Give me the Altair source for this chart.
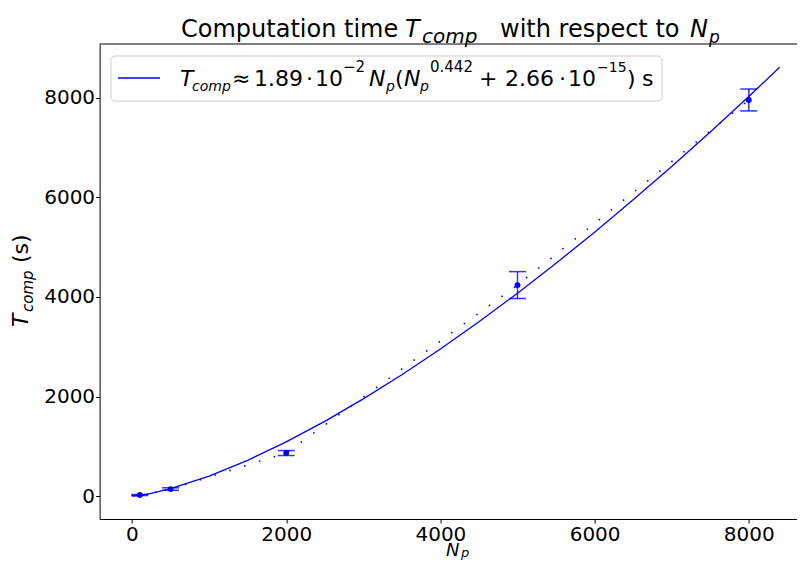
import altair as alt
import pandas as pd

# ---------------- data ----------------
N_obs = [100, 500, 2000, 5000, 8000]
T_obs = [20, 140, 864, 4240, 7960]
T_err = [10, 25, 50, 270, 220]

N_fit = [0, 100, 250, 500, 1000, 1500, 2000, 2500, 3000, 3500, 4000,
         4500, 5000, 5500, 6000, 6500, 7000, 7500, 8000, 8400]
T_fit = [0, 14.5, 54, 147, 400, 718, 1088, 1501, 1952, 2438, 2955,
         3502, 4077, 4678, 5303, 5953, 6624, 7317, 8030, 8616]

x_ticks = [0, 2000, 4000, 6000, 8000]
y_ticks = [0, 2000, 4000, 6000, 8000]

# ---------------- layout ----------------
PX0, PY0 = 99.6, 44.0          # page position of plot origin
W, H = 697.4, 475
XDOM = [-420, 8625]
YDOM = [-462, 9085]
BLUE = "#0000ff"
FONT = "DejaVu Sans"

xs = alt.Scale(domain=XDOM, nice=False, zero=False)
ys = alt.Scale(domain=YDOM, nice=False, zero=False)

df_fit = pd.DataFrame({"N": N_fit, "T": T_fit})
df_obs = pd.DataFrame({
    "N": N_obs, "T": T_obs,
    "lo": [t - e for t, e in zip(T_obs, T_err)],
    "hi": [t + e for t, e in zip(T_obs, T_err)],
})

xaxis = alt.Axis(values=x_ticks, title=None, format="d")
yaxis = alt.Axis(values=y_ticks, title=None, format="d")

fit = alt.Chart(df_fit).mark_line(color=BLUE, strokeWidth=1.3, clip=True).encode(
    x=alt.X("N:Q", scale=xs, axis=xaxis),
    y=alt.Y("T:Q", scale=ys, axis=yaxis),
)
base = alt.Chart(df_obs)
dotted = base.mark_line(color=BLUE, strokeWidth=1.6, strokeDash=[1.5, 14]).encode(
    x=alt.X("N:Q", scale=xs), y=alt.Y("T:Q", scale=ys))
bars = base.mark_rule(color=BLUE, strokeWidth=1.5, opacity=0.8).encode(
    x=alt.X("N:Q", scale=xs), y=alt.Y("lo:Q", scale=ys), y2="hi:Q")
cap_lo = base.mark_tick(color=BLUE, orient="horizontal", size=17, thickness=1.5, opacity=0.8).encode(
    x=alt.X("N:Q", scale=xs), y=alt.Y("lo:Q", scale=ys))
cap_hi = base.mark_tick(color=BLUE, orient="horizontal", size=17, thickness=1.5, opacity=0.8).encode(
    x=alt.X("N:Q", scale=xs), y=alt.Y("hi:Q", scale=ys))
pts = base.mark_circle(color=BLUE, size=34, opacity=1).encode(
    x=alt.X("N:Q", scale=xs), y=alt.Y("T:Q", scale=ys))

one = pd.DataFrame({"k": [0]})

def txt(text, px, py, size, italic=False, angle=0):
    kw = dict(text=text, font=FONT, fontSize=size, color="black",
              align="left", baseline="alphabetic")
    if italic:
        kw["fontStyle"] = "italic"
    if angle:
        kw["angle"] = angle
    return alt.Chart(one).mark_text(**kw).encode(
        x=alt.value(px - PX0), y=alt.value(py - PY0))

layers = [fit, dotted, bars, cap_lo, cap_hi, pts]

# top spine
layers.append(alt.Chart(one).mark_rule(color="black", strokeWidth=1).encode(
    x=alt.value(0), x2=alt.value(W), y=alt.value(0)))

# title
title_parts = [
    ("Computation time", 181, 37, 24, False),
    ("T", 405, 37, 24, True),
    ("comp", 422, 43, 20, True),
    ("with respect to", 500, 37, 24, False),
    ("N", 690, 37, 24, True),
    ("p", 709, 43, 17, True),
]
for t, px, py, s, it in title_parts:
    layers.append(txt(t, px, py, s, it))

# y axis title (rotated)
for t, px, py, s, it in [("T", 28, 327, 22, True), ("comp", 33, 312, 15, True), ("(s)", 28, 263, 22, False)]:
    layers.append(txt(t, px, py, s, it, angle=270))

# x axis title (kept inside the visible page)
layers.append(txt("N", 446, 556, 18, True))
layers.append(txt("p", 461, 557, 13, True))

# legend box
layers.append(alt.Chart(one).mark_rect(fill="white", fillOpacity=0.8, stroke="#cccccc",
                                        strokeWidth=1, cornerRadius=4).encode(
    x=alt.value(111 - PX0), x2=alt.value(662 - PX0),
    y=alt.value(56 - PY0), y2=alt.value(101 - PY0)))
layers.append(alt.Chart(one).mark_rule(color=BLUE, strokeWidth=1.3).encode(
    x=alt.value(118 - PX0), x2=alt.value(160 - PX0), y=alt.value(78 - PY0)))

MB, SUP, SUB = 86, 72, 91
legend_parts = [
    ("T", 180, MB, 22, True),
    ("comp", 192, SUB, 14, True),
    ("≈", 232, MB, 22, False),
    ("1.89", 254, MB, 22, False),
    ("·", 306, MB, 22, False),
    ("10", 315, MB, 22, False),
    ("−2", 343, SUP, 15, False),
    ("N", 369, MB, 22, True),
    ("p", 386, SUB, 14, True),
    ("(", 395, MB, 22, False),
    ("N", 404, MB, 22, True),
    ("p", 420, SUB, 14, True),
    ("0.442", 430, SUP, 15, False),
    ("+", 479, MB, 22, False),
    ("2.66", 505, MB, 22, False),
    ("·", 559, MB, 22, False),
    ("10", 568, MB, 22, False),
    ("−15", 597, SUP, 14, False),
    (")", 627, MB, 22, False),
    ("s", 642, MB, 22, False),
]
for t, px, py, s, it in legend_parts:
    layers.append(txt(t, px, py, s, it))

chart = alt.layer(*layers).properties(
    width=W, height=H,
    autosize=alt.AutoSizeParams(type="none"),
    padding={"left": PX0 - 8, "top": PY0 - 8, "right": 0, "bottom": 42},
).configure_axis(
    labelFont=FONT, labelFontSize=20, labelColor="black",
    tickColor="black", domainColor="black", tickSize=4, tickWidth=1,
    domainWidth=1, grid=False, labelPadding=1,
).configure_view(stroke=None)

chart.save("out.html", embed_options={"renderer": "svg", "actions": False})
